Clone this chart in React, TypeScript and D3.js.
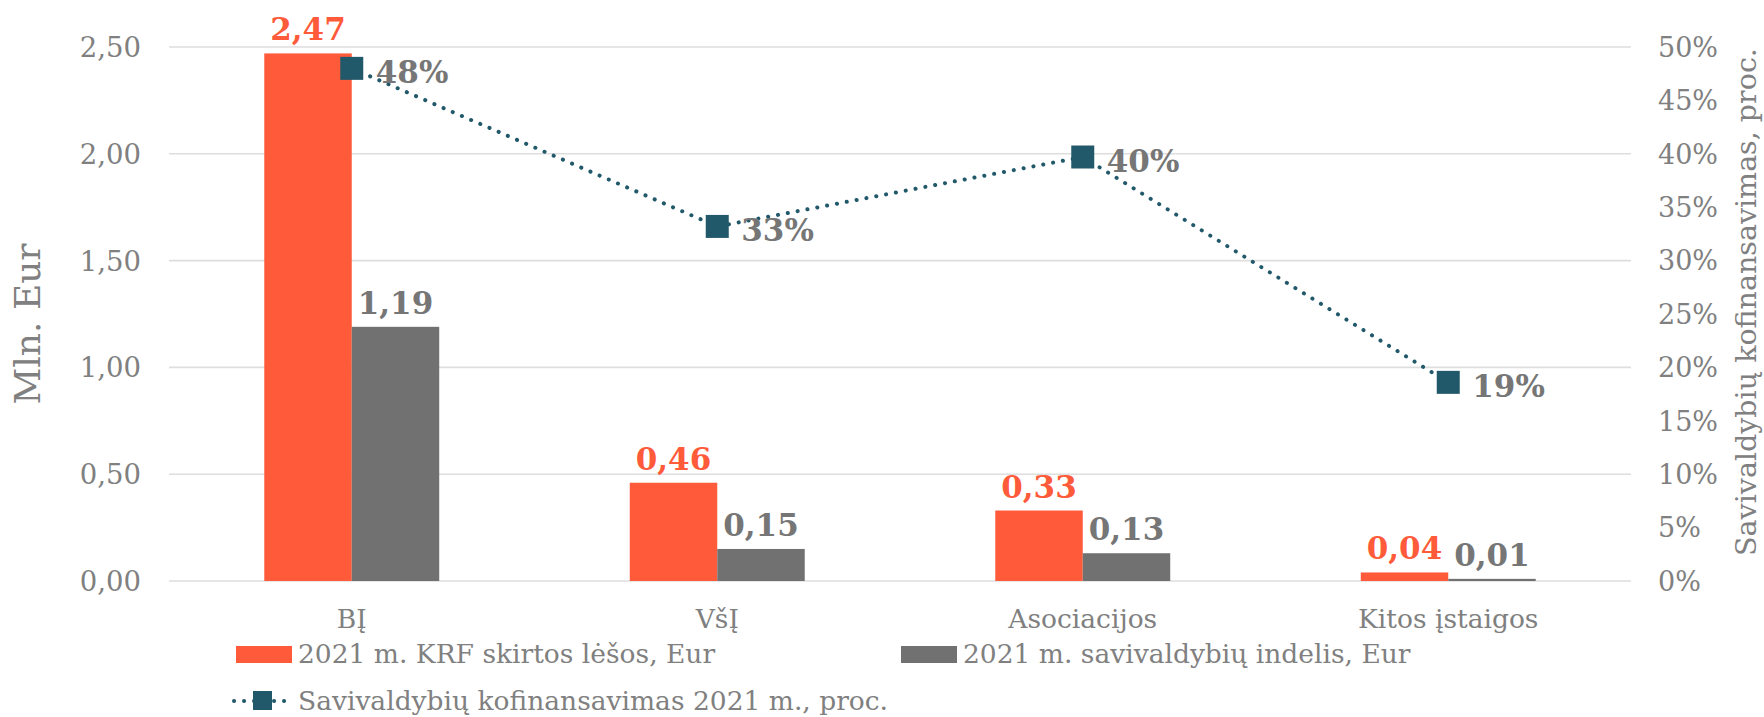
import React from "react";
import * as d3 from "d3";

const categories = ["BĮ", "VšĮ", "Asociacijos", "Kitos įstaigos"];
const krfValues = [2.47, 0.46, 0.33, 0.04];
const municipalValues = [1.19, 0.15, 0.13, 0.01];
const cofinancePct = [0.48, 0.332, 0.397, 0.186];
const leftTicks = [0, 0.5, 1.0, 1.5, 2.0, 2.5];
const rightTicks = [0, 0.05, 0.1, 0.15, 0.2, 0.25, 0.3, 0.35, 0.4, 0.45, 0.5];
const seriesNames = ["2021 m. KRF skirtos lėšos, Eur", "2021 m. savivaldybių indelis, Eur"];
const lineName = "Savivaldybių kofinansavimas 2021 m., proc.";
const leftTitle = "Mln. Eur";
const rightTitle = "Savivaldybių kofinansavimas, proc.";

const W = 1764;
const H = 717;
const FONT = "'DejaVu Serif', Georgia, serif";
const ORANGE = "#FF5B3B";
const GRAY = "#717171";
const TEAL = "#22596A";
const TEXT = "#808080";
const LABEL_GRAY = "#767676";

const plot = { left: 169, right: 1631, top: 47, bottom: 581 };

const locale = d3.formatLocale({ decimal: ",", thousands: " ", grouping: [3], currency: ["", "€"] });
const fmt2 = locale.format(".2f");
const fmtPct = locale.format(".0%");

export default function App() {
  const x = d3.scaleBand<string>().domain(categories).range([plot.left, plot.right]).padding(0);
  const xs = d3
    .scaleBand<string>()
    .domain(["krf", "mun"])
    .range([0, x.bandwidth()])
    .paddingInner(0)
    .paddingOuter(1.089);
  const y = d3.scaleLinear().domain([0, 2.5]).range([plot.bottom, plot.top]);
  const y2 = d3.scaleLinear().domain([0, 0.5]).range([plot.bottom, plot.top]);

  const cx = (c: string) => (x(c) as number) + x.bandwidth() / 2;
  const linePts: [number, number][] = categories.map((c, i) => [cx(c), y2(cofinancePct[i])]);
  const lineGen = d3.line();
  const dotted = { stroke: TEAL, strokeWidth: 4, strokeDasharray: "0.1 9.9", strokeLinecap: "round" as const, fill: "none" };
  const M = 23;

  const series = [
    { key: "krf", values: krfValues, color: ORANGE, labelColor: ORANGE },
    { key: "mun", values: municipalValues, color: GRAY, labelColor: LABEL_GRAY },
  ];

  return (
    <svg
      width={W}
      height={H}
      style={{ position: "absolute", left: 0, top: 0, display: "block", background: "#fff" }}
      fontFamily={FONT}
    >
      {/* gridlines */}
      {leftTicks.map((t) => (
        <line key={"g" + t} x1={plot.left} x2={plot.right} y1={y(t)} y2={y(t)} stroke="#DEDEDE" strokeWidth={1.6} />
      ))}
      {/* left ticks */}
      {leftTicks.map((t) => (
        <text key={"l" + t} x={141} y={y(t)} dy="0.36em" textAnchor="end" fontSize={27.5} fill={TEXT}>
          {fmt2(t)}
        </text>
      ))}
      {/* right ticks */}
      {rightTicks.map((t) => (
        <text key={"r" + t} x={1658} y={y2(t)} dy="0.36em" textAnchor="start" fontSize={27} fill={TEXT}>
          {fmtPct(t)}
        </text>
      ))}
      {/* axis titles */}
      <text
        transform={`translate(40,${(plot.top + plot.bottom) / 2 + 10}) rotate(-90)`}
        textAnchor="middle"
        fontSize={36}
        fill={TEXT}
      >
        {leftTitle}
      </text>
      <text
        transform={`translate(1756,${(plot.top + plot.bottom) / 2 - 12}) rotate(-90)`}
        textAnchor="middle"
        fontSize={28.5}
        fill={TEXT}
      >
        {rightTitle}
      </text>
      {/* bars */}
      {categories.map((c) =>
        series.map((s) => {
          const i = categories.indexOf(c);
          const v = s.values[i];
          const bx = (x(c) as number) + (xs(s.key) as number);
          return (
            <rect
              key={c + s.key}
              x={bx}
              y={y(v)}
              width={xs.bandwidth()}
              height={plot.bottom - y(v)}
              fill={s.color}
            />
          );
        })
      )}
      {/* category labels */}
      {categories.map((c) => (
        <text key={"c" + c} x={cx(c)} y={628} textAnchor="middle" fontSize={26.5} fill={TEXT}>
          {c}
        </text>
      ))}
      {/* bar value labels */}
      {categories.map((c, i) =>
        series.map((s) => {
          const v = s.values[i];
          const bx = (x(c) as number) + (xs(s.key) as number) + xs.bandwidth() / 2;
          return (
            <text
              key={"v" + c + s.key}
              x={bx}
              y={y(v) - 13}
              textAnchor="middle"
              fontSize={31}
              fontWeight="bold"
              fill={s.labelColor}
            >
              {fmt2(v)}
            </text>
          );
        })
      )}
      {/* line */}
      <path d={lineGen(linePts) || ""} {...dotted} />
      {linePts.map(([px, py], i) => (
        <rect key={"m" + i} x={px - M / 2} y={py - M / 2} width={M} height={M} fill={TEAL} />
      ))}
      {linePts.map(([px, py], i) => (
        <text
          key={"p" + i}
          x={px + 24}
          y={py + 15}
          textAnchor="start"
          fontSize={31}
          fontWeight="bold"
          fill={LABEL_GRAY}
        >
          {fmtPct(cofinancePct[i])}
        </text>
      ))}
      {/* legend */}
      <rect x={236} y={646} width={56} height={17} fill={ORANGE} />
      <text x={298} y={663} fontSize={26.5} fill={TEXT}>
        {seriesNames[0]}
      </text>
      <rect x={901} y={646} width={56} height={17} fill={GRAY} />
      <text x={963} y={663} fontSize={26.5} fill={TEXT}>
        {seriesNames[1]}
      </text>
      <path d={lineGen([[234, 701], [292, 701]]) || ""} {...dotted} />
      <rect x={253} y={691} width={19} height={19} fill={TEAL} />
      <text x={298} y={710} fontSize={26.5} fill={TEXT}>
        {lineName}
      </text>
    </svg>
  );
}
